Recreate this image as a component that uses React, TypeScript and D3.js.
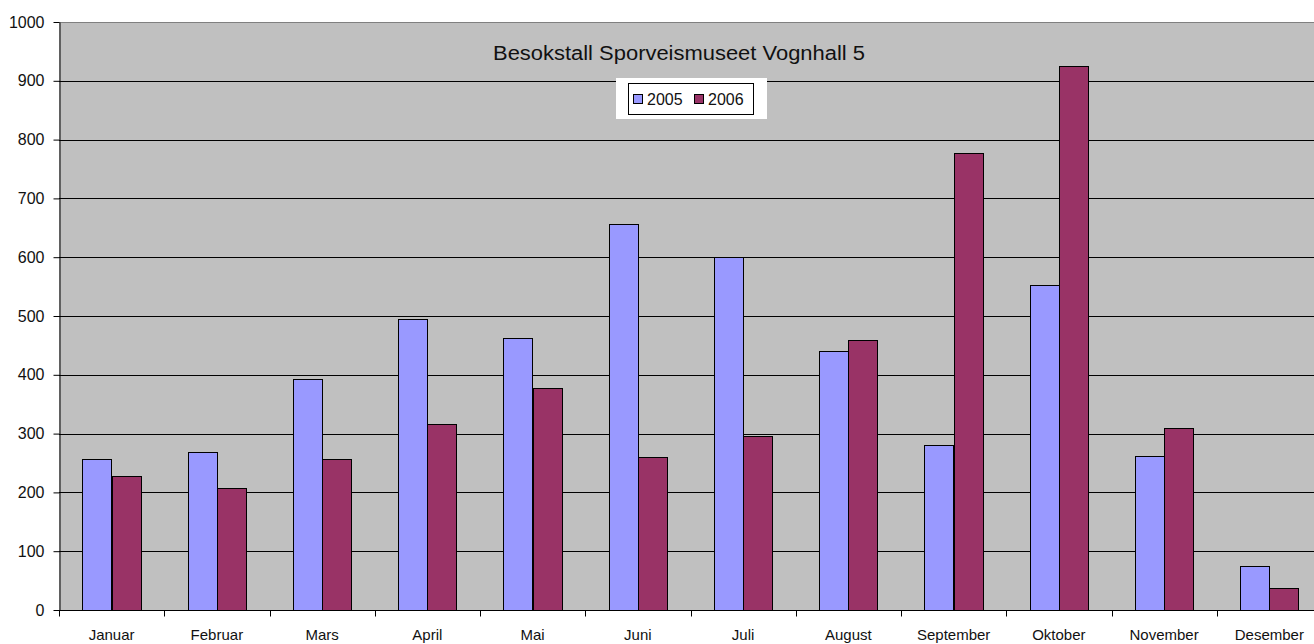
import React, { useEffect, useRef } from 'react';
import * as d3 from 'd3';

const months = ['Januar', 'Februar', 'Mars', 'April', 'Mai', 'Juni', 'Juli', 'August', 'September', 'Oktober', 'November', 'Desember'];
const series = ['2005', '2006'];
const values2005 = [257, 268, 393, 495, 462, 657, 600, 441, 280, 552, 262, 75];
const values2006 = [228, 207, 257, 316, 378, 260, 296, 460, 778, 925, 310, 37];
const yTicks = [0, 100, 200, 300, 400, 500, 600, 700, 800, 900, 1000];
const colors = ['#9999ff', '#993366'];

const App: React.FC = () => {
  const svgRef = useRef<SVGSVGElement>(null);
  const width = 1314;
  const height = 644;

  useEffect(() => {
    if (!svgRef.current) return;
    const svg = d3.select(svgRef.current);
    svg.selectAll('*').remove();

    const left = 59, top = 22, bottom = 610, right = 1322;
    const font = 'Liberation Sans, Arial, sans-serif';

    const x = d3.scaleBand<string>().domain(months).range([left, right]).paddingInner(0).paddingOuter(0);
    const xInner = d3.scaleBand<string>().domain(series).range([0, x.bandwidth()]).paddingInner(0).paddingOuter(0.8);
    const y = d3.scaleLinear().domain([0, 1000]).range([bottom, top]);

    // plot area
    svg.append('rect').attr('x', left).attr('y', top).attr('width', right - left).attr('height', bottom - top)
      .attr('fill', '#c0c0c0');
    svg.append('line').attr('x1', left).attr('x2', right).attr('y1', top + 0.5).attr('y2', top + 0.5)
      .attr('stroke', '#808080');

    // gridlines
    svg.append('g').selectAll('line').data(yTicks.filter(t => t > 0 && t < 1000)).join('line')
      .attr('x1', left).attr('x2', right)
      .attr('y1', d => Math.round(y(d)) + 0.5).attr('y2', d => Math.round(y(d)) + 0.5)
      .attr('stroke', '#000').attr('stroke-width', 1);

    // y axis
    const yAxis = svg.append('g').attr('transform', `translate(${left + 0.5},0)`)
      .call(d3.axisLeft(y).tickValues(yTicks).tickFormat(d3.format('d')).tickSize(6).tickSizeOuter(0).tickPadding(9));
    yAxis.select('.domain').attr('stroke', '#000');
    yAxis.selectAll('text').attr('font-family', font).attr('font-size', 16).attr('fill', '#111');

    // x axis
    const xAxis = svg.append('g').attr('transform', `translate(0,${bottom + 0.5})`);
    xAxis.append('line').attr('x1', left).attr('x2', right).attr('stroke', '#000');
    xAxis.selectAll('line.tk').data(months).join('line').attr('class', 'tk')
      .attr('x1', d => Math.round(x(d)!) + 0.5).attr('x2', d => Math.round(x(d)!) + 0.5)
      .attr('y1', 0).attr('y2', 6).attr('stroke', '#000');
    xAxis.selectAll('text').data(months).join('text')
      .attr('x', d => x(d)! + x.bandwidth() / 2).attr('y', 29.5)
      .attr('text-anchor', 'middle').attr('font-family', font).attr('font-size', 15).attr('fill', '#111')
      .text(d => d);

    // bars
    const rows = months.map((m, i) => ({ m, vals: [values2005[i], values2006[i]] }));
    const g = svg.append('g');
    rows.forEach(r => {
      r.vals.forEach((v, j) => {
        const x0 = x(r.m)! + xInner(series[j])!;
        g.append('rect')
          .attr('x', Math.round(x0) + 0.5).attr('y', Math.round(y(v)) + 0.5)
          .attr('width', Math.round(xInner.bandwidth()))
          .attr('height', Math.round(y(0)) - Math.round(y(v)))
          .attr('fill', colors[j]).attr('stroke', '#000').attr('stroke-width', 1);
      });
    });

    // title
    svg.append('text').attr('x', 493).attr('y', 60)
      .attr('font-family', font).attr('font-size', 20).attr('fill', '#111')
      .attr('textLength', 372).attr('lengthAdjust', 'spacingAndGlyphs')
      .text('Besokstall Sporveismuseet Vognhall 5');

    // legend
    svg.append('rect').attr('x', 616).attr('y', 78).attr('width', 151).attr('height', 41).attr('fill', '#fff');
    svg.append('rect').attr('x', 628.5).attr('y', 83.5).attr('width', 125).attr('height', 31)
      .attr('fill', '#fff').attr('stroke', '#000');
    const legendX = [633, 694];
    series.forEach((s, j) => {
      svg.append('rect').attr('x', legendX[j] + 0.5).attr('y', 94.5).attr('width', 9).attr('height', 9)
        .attr('fill', colors[j]).attr('stroke', '#000');
      svg.append('text').attr('x', legendX[j] + 14).attr('y', 105)
        .attr('font-family', font).attr('font-size', 16).attr('fill', '#111').text(s);
    });
  }, []);

  return (
    <svg ref={svgRef} width={width} height={height}
      style={{ position: 'fixed', left: 0, top: 0, display: 'block', background: '#fff' }} />
  );
};

export default App;
